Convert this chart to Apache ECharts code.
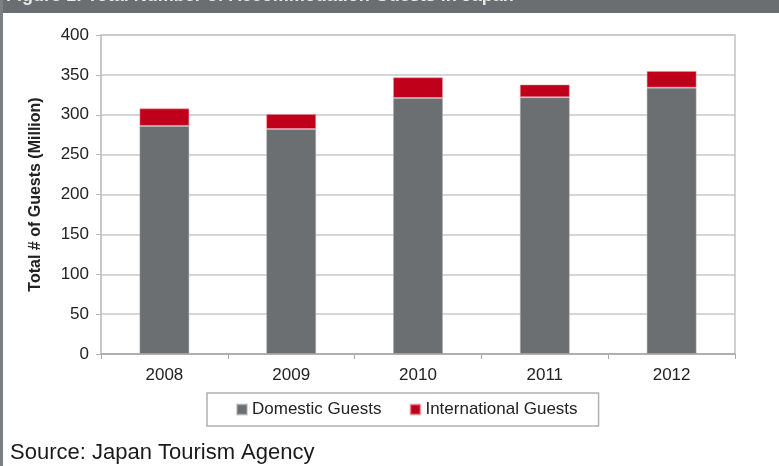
<!DOCTYPE html>
<html>
<head>
<meta charset="utf-8">
<script src="https://cdn.jsdelivr.net/npm/echarts@6/dist/echarts.min.js"></script>
<style>html,body{margin:0;padding:0;background:#fff}#c{width:779px;height:466px}</style>
</head>
<body>
<div id="c"></div>
<script>
var years = ['2008', '2009', '2010', '2011', '2012'];
var domestic = [286, 282, 321, 322, 334];
var international = [22, 19, 26, 16, 21];
var yTicks = [0, 50, 100, 150, 200, 250, 300, 350, 400];

var chart = echarts.init(document.getElementById('c'));
var font = '"Liberation Sans", Arial, sans-serif';
chart.setOption({
  animation: false,
  backgroundColor: '#ffffff',
  textStyle: { fontFamily: font },
  grid: { left: 101, right: 44, top: 35, bottom: 112, show: true, borderColor: '#c4c4c4', borderWidth: 1.5 },
  legend: {
    left: 207, top: 393,
    padding: [8, 21, 8, 29],
    itemWidth: 10, itemHeight: 10, itemGap: 28,
    borderColor: '#b0b0b0', borderWidth: 1.5,
    icon: 'rect',
    textStyle: { fontFamily: font, fontSize: 17, color: '#222' },
    data: ['Domestic Guests', 'International Guests']
  },
  xAxis: {
    type: 'category', data: years,
    axisLine: { lineStyle: { color: '#a8a8a8', width: 1.5 } },
    axisTick: { show: true, alignWithLabel: false, length: 5, lineStyle: { color: '#a8a8a8' } },
    axisLabel: { fontSize: 17, color: '#222', margin: 13, fontFamily: font }
  },
  yAxis: {
    type: 'value', min: yTicks[0], max: yTicks[yTicks.length - 1], interval: 50,
    name: 'Total # of Guests (Million)', nameLocation: 'middle', nameGap: 57,
    nameTextStyle: { fontSize: 16, fontWeight: 'bold', color: '#222', fontFamily: font },
    axisLine: { show: true, lineStyle: { color: '#c4c4c4', width: 1.5 } },
    axisTick: { show: true, length: 5, lineStyle: { color: '#b8b8b8' } },
    axisLabel: { fontSize: 17, color: '#222', margin: 12, fontFamily: font },
    splitLine: { lineStyle: { color: '#c8c8c8', width: 1.5 } }
  },
  series: [
    { name: 'Domestic Guests', type: 'bar', stack: 't', barWidth: 50, data: domestic,
      itemStyle: { color: '#6c6f72', borderColor: 'rgba(170,170,170,0.5)', borderWidth: 1 } },
    { name: 'International Guests', type: 'bar', stack: 't', barWidth: 50, data: international,
      itemStyle: { color: '#c0001a', borderColor: 'rgba(230,150,160,0.5)', borderWidth: 1 } }
  ],
  graphic: [
    { type: 'rect', left: 0, top: 0, shape: { width: 779, height: 13 }, style: { fill: '#6b6e71' }, silent: true },
    { type: 'rect', left: 0, top: 0, shape: { width: 3, height: 466 }, style: { fill: '#7d7f82' }, silent: true },
    { type: 'text', left: 6, top: -13, style: { text: 'Figure 1: Total Number of Accommodation Guests in Japan', fill: '#e8e8e8', font: 'bold 18px ' + font } , silent: true },
    { type: 'text', left: 10, top: 442, style: { text: 'Source: Japan Tourism Agency', fill: '#1a1a1a', font: '22px ' + font }, silent: true }
  ]
});
</script>
</body>
</html>
